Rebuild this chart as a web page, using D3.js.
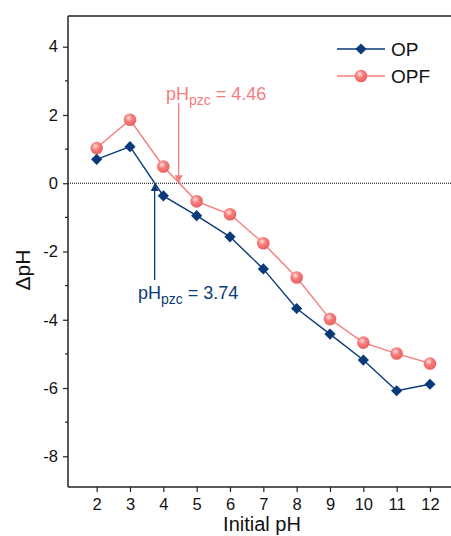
<!DOCTYPE html>
<html>
<head>
<meta charset="utf-8">
<script src="https://cdn.jsdelivr.net/npm/d3@7"></script>
<style>
  html, body { margin: 0; padding: 0; background: #fff; }
  svg { display: block; font-family: Arial, "Liberation Sans", sans-serif; }
</style>
</head>
<body>
<div id="chart"></div>
<script>
// data
const initialPH = [2, 3, 4, 5, 6, 7, 8, 9, 10, 11, 12];
const opValues = [0.70, 1.07, -0.37, -0.95, -1.57, -2.51, -3.67, -4.42, -5.18, -6.08, -5.89];
const opfValues = [1.03, 1.86, 0.49, -0.53, -0.91, -1.76, -2.76, -3.98, -4.67, -4.99, -5.28];
const yTicks = [-8, -6, -4, -2, 0, 2, 4];
const yMinorTicks = [-7, -5, -3, -1, 1, 3];
const pzcOP = 3.74;
const pzcOPF = 4.46;

const width = 451, height = 536;
const navy = "#0a3b78";
const salmon = "#f77c7c";

const margin = {left: 68, top: 16, bottom: 49};
const plotRight = 480; // frame runs past the picture's right edge

const svg = d3.select("#chart")
    .append("svg")
    .attr("width", width)
    .attr("height", height);

const defs = svg.append("defs");
const grad = defs.append("radialGradient")
    .attr("id", "ball")
    .attr("cx", "40%").attr("cy", "35%").attr("r", "65%");
grad.append("stop").attr("offset", "0%").attr("stop-color", "#ffe0e0");
grad.append("stop").attr("offset", "45%").attr("stop-color", salmon);
grad.append("stop").attr("offset", "100%").attr("stop-color", "#e86060");

["navyHead", "salmonHead"].forEach((id, i) => {
    defs.append("marker")
        .attr("id", id)
        .attr("viewBox", "0 0 10 10")
        .attr("refX", 10).attr("refY", 5)
        .attr("markerWidth", 8).attr("markerHeight", 12)
        .attr("markerUnits", "userSpaceOnUse")
        .attr("orient", "auto")
        .append("path")
        .attr("d", "M0,0 L10,5 L0,10 Z")
        .attr("fill", i === 0 ? navy : salmon);
});

const x = d3.scaleLinear()
    .domain([1.14, 2 + (plotRight - 96.7) / 33.33])
    .range([margin.left, plotRight]);

const y = d3.scaleLinear()
    .domain([-8.9, 4.9])
    .range([height - margin.bottom, margin.top]);

const axisColor = "#222";
const hyphenFmt = d => String(d); // plain hyphen minus like the original

// zero reference line
svg.append("line")
    .attr("x1", margin.left).attr("x2", plotRight)
    .attr("y1", y(0)).attr("y2", y(0))
    .attr("stroke", "#000")
    .attr("stroke-width", 1)
    .attr("stroke-dasharray", "1,1");

// frame top
svg.append("line")
    .attr("x1", margin.left).attr("x2", plotRight)
    .attr("y1", margin.top).attr("y2", margin.top)
    .attr("stroke", axisColor).attr("stroke-width", 1.5);

// y axis
const yAxis = svg.append("g")
    .attr("transform", `translate(${margin.left},0)`)
    .call(d3.axisLeft(y).tickValues(yTicks).tickSize(5).tickPadding(5).tickFormat(hyphenFmt));
yAxis.append("g").selectAll("line")
    .data(yMinorTicks)
    .join("line")
    .attr("x1", 0).attr("x2", -3)
    .attr("y1", d => y(d)).attr("y2", d => y(d))
    .attr("stroke", axisColor).attr("stroke-width", 1.2);

// x axis
const xAxis = svg.append("g")
    .attr("transform", `translate(0,${height - margin.bottom})`)
    .call(d3.axisBottom(x).tickValues(initialPH).tickSize(5).tickPadding(6).tickFormat(hyphenFmt));

[yAxis, xAxis].forEach(g => {
    g.select(".domain").attr("stroke", axisColor).attr("stroke-width", 1.5);
    g.selectAll(".tick line").attr("stroke", axisColor).attr("stroke-width", 1.2);
    g.selectAll(".tick text").attr("fill", "#111").style("font-size", "16.5px");
});
yAxis.select(".domain").attr("d", `M0,${margin.top}V${height - margin.bottom}`);
xAxis.select(".domain").attr("d", `M${margin.left},0H${plotRight}`);

// axis titles
svg.append("text")
    .attr("x", 262).attr("y", 531)
    .attr("text-anchor", "middle")
    .attr("fill", "#111")
    .style("font-size", "20px")
    .text("Initial pH");

svg.append("text")
    .attr("transform", `translate(30,${270}) rotate(-90)`)
    .attr("text-anchor", "middle")
    .attr("fill", "#111")
    .style("font-size", "21px")
    .text("ΔpH");

// series
const line = d3.line().x(d => x(d[0])).y(d => y(d[1]));
const opData = initialPH.map((d, i) => [d, opValues[i]]);
const opfData = initialPH.map((d, i) => [d, opfValues[i]]);

svg.append("path")
    .datum(opfData)
    .attr("d", line)
    .attr("fill", "none")
    .attr("stroke", salmon)
    .attr("stroke-width", 1.4);

svg.append("path")
    .datum(opData)
    .attr("d", line)
    .attr("fill", "none")
    .attr("stroke", navy)
    .attr("stroke-width", 1.4);

const diamond = d3.symbol().type(d3.symbolDiamond2).size(80);

svg.append("g").selectAll("circle")
    .data(opfData)
    .join("circle")
    .attr("cx", d => x(d[0])).attr("cy", d => y(d[1]))
    .attr("r", 6.3)
    .attr("fill", "url(#ball)");

svg.append("g").selectAll("path")
    .data(opData)
    .join("path")
    .attr("transform", d => `translate(${x(d[0])},${y(d[1])})`)
    .attr("d", diamond)
    .attr("fill", navy);

// annotations
svg.append("line")
    .attr("x1", x(pzcOPF)).attr("x2", x(pzcOPF))
    .attr("y1", 103).attr("y2", y(0))
    .attr("stroke", salmon).attr("stroke-width", 1.3)
    .attr("marker-end", "url(#salmonHead)");

svg.append("line")
    .attr("x1", x(pzcOP)).attr("x2", x(pzcOP))
    .attr("y1", 280).attr("y2", y(0))
    .attr("stroke", navy).attr("stroke-width", 1.3)
    .attr("marker-end", "url(#navyHead)");

function pzcLabel(px, py, value, color) {
    const t = svg.append("text")
        .attr("x", px).attr("y", py)
        .attr("fill", color)
        .style("font-size", "18px");
    t.append("tspan").text("pH");
    t.append("tspan").attr("dy", 5).style("font-size", "14px").text("pzc");
    t.append("tspan").attr("dy", -5).text(" = " + value.toFixed(2));
}
pzcLabel(166, 100, pzcOPF, salmon);
pzcLabel(138, 299, pzcOP, navy);

// legend
const legend = svg.append("g");
const legendItems = [
    {name: "OP", color: navy, yy: 49},
    {name: "OPF", color: salmon, yy: 76}
];
legendItems.forEach((d, i) => {
    legend.append("line")
        .attr("x1", 337).attr("x2", 385)
        .attr("y1", d.yy).attr("y2", d.yy)
        .attr("stroke", d.color).attr("stroke-width", 1.4);
    if (i === 0) {
        legend.append("path")
            .attr("transform", `translate(361,${d.yy})`)
            .attr("d", diamond)
            .attr("fill", navy);
    } else {
        legend.append("circle")
            .attr("cx", 361).attr("cy", d.yy).attr("r", 6.3)
            .attr("fill", "url(#ball)");
    }
    legend.append("text")
        .attr("x", 391).attr("y", d.yy + 7)
        .attr("fill", "#111")
        .style("font-size", "19px")
        .text(d.name);
});
</script>
</body>
</html>
